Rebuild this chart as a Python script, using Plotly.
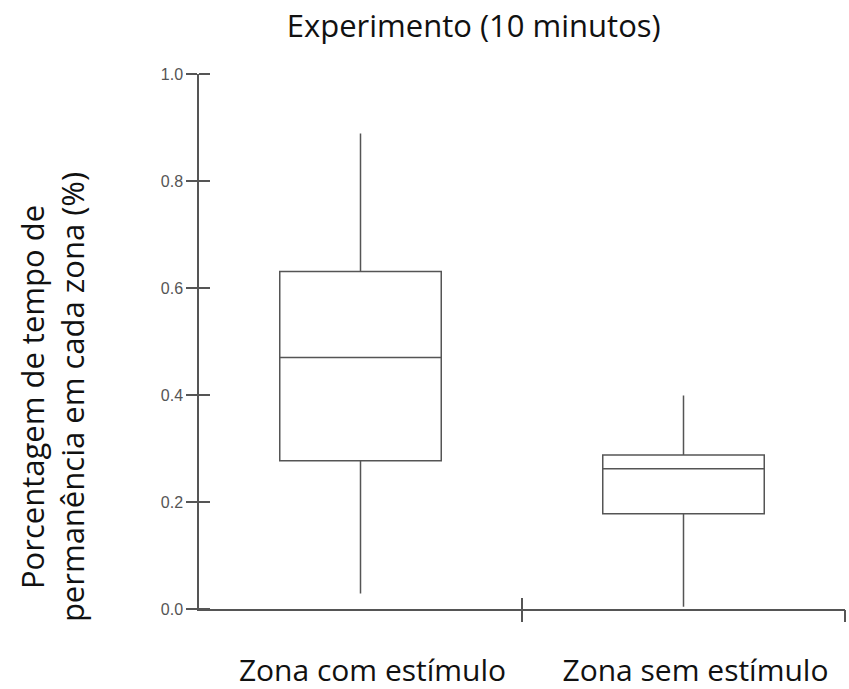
import plotly.graph_objects as go

categories = ["Zona com estímulo", "Zona sem estímulo"]
lower_whisker = [0.029, 0.004]
q1_vals = [0.277, 0.178]
median_vals = [0.470, 0.262]
q3_vals = [0.631, 0.288]
upper_whisker = [0.889, 0.399]
y_ticks = [0.0, 0.2, 0.4, 0.6, 0.8, 1.0]
boundary_ticks = [0.5, 1.5]

LINE = "#555555"
FONT = "Open Sans"

fig = go.Figure()
for i, cat in enumerate(categories):
    fig.add_trace(go.Box(
        x=[cat], q1=[q1_vals[i]], median=[median_vals[i]], q3=[q3_vals[i]],
        lowerfence=[lower_whisker[i]], upperfence=[upper_whisker[i]],
        width=0.5, whiskerwidth=0, fillcolor="white",
        line=dict(color=LINE, width=1.5), boxpoints=False,
        showlegend=False, hoverinfo="skip",
    ))

# empty helper traces so that the overlay axes (tick crossings) are drawn
fig.add_trace(go.Scatter(x=[], y=[], xaxis="x2", yaxis="y", showlegend=False, hoverinfo="skip"))
fig.add_trace(go.Scatter(x=[], y=[], xaxis="x3", yaxis="y", showlegend=False, hoverinfo="skip"))

fig.update_layout(
    width=849, height=689,
    margin=dict(l=199, r=4, t=74, b=80),
    paper_bgcolor="white", plot_bgcolor="white",
    title=dict(text="Experimento (10 minutos)", x=0.558, xanchor="center",
               y=1 - 26 / 689, yanchor="middle", yref="container",
               font=dict(family=FONT, size=31, color="#111111")),
    xaxis=dict(type="category", range=[-0.5, 1.5], showline=True, linecolor=LINE,
               linewidth=1.5, ticks="", showgrid=False, zeroline=False, automargin=False,
               tickfont=dict(family=FONT, size=30, color="#111111"),
               ticklabelstandoff=34, ticklabelshift=12),
    xaxis2=dict(overlaying="x", anchor="y", range=[-0.5, 1.5], tickvals=boundary_ticks,
                ticks="outside", ticklen=12, tickwidth=1.5, tickcolor=LINE, automargin=False,
                showticklabels=False, showgrid=False, zeroline=False, showline=False),
    xaxis3=dict(overlaying="x", anchor="y", range=[-0.5, 1.5], tickvals=boundary_ticks,
                ticks="inside", ticklen=11, tickwidth=1.5, tickcolor=LINE, automargin=False,
                showticklabels=False, showgrid=False, zeroline=False, showline=False),
    yaxis=dict(range=[0, 1], tickvals=y_ticks, tickformat=".1f", showline=True,
               linecolor=LINE, linewidth=1.5, ticks="outside", ticklen=11, automargin=False,
               tickwidth=1.5, tickcolor=LINE, showgrid=False, zeroline=False,
               minor=dict(tickvals=y_ticks, ticks="inside", ticklen=11, tickwidth=1.5,
                          tickcolor=LINE, showgrid=False),
               tickfont=dict(family="Liberation Sans", size=16, color="#555555")),
    annotations=[dict(
        text="Porcentagem de tempo de<br>permanência em cada zona (%)",
        textangle=-90, xref="paper", yref="paper", x=-0.2276, y=0.396,
        xanchor="center", yanchor="middle", showarrow=False,
        font=dict(family=FONT, size=31, color="#111111"))],
)

fig.write_html(
    "out.html",
    config={"displayModeBar": False},
    post_script="document.body.style.margin='0';document.body.style.overflow='hidden';",
)
